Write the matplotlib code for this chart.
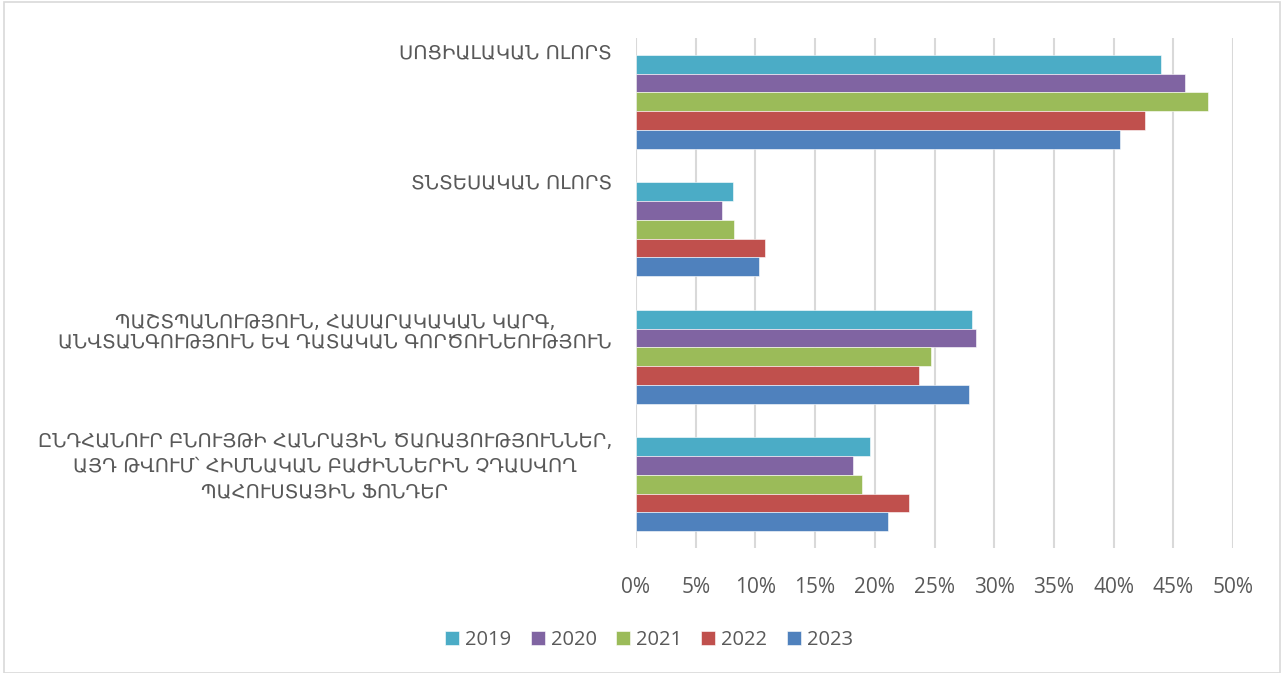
import matplotlib
matplotlib.use("Agg")
import matplotlib.pyplot as plt
from matplotlib.patches import Rectangle
import numpy as np

categories = [
    "ՍՈՑԻԱԼԱԿԱՆ ՈԼՈՐՏ",
    "ՏՆՏԵՍԱԿԱՆ ՈԼՈՐՏ",
    "ՊԱՇՏՊԱՆՈՒԹՅՈՒՆ, ՀԱՍԱՐԱԿԱԿԱՆ ԿԱՐԳ,\nԱՆՎՏԱՆԳՈՒԹՅՈՒՆ ԵՎ ԴԱՏԱԿԱՆ ԳՈՐԾՈՒՆԵՈՒԹՅՈՒՆ",
    "ԸՆԴՀԱՆՈՒՐ ԲՆՈՒՅԹԻ ՀԱՆՐԱՅԻՆ ԾԱՌԱՅՈՒԹՅՈՒՆՆԵՐ,\nԱՅԴ ԹՎՈՒՄ՝ ՀԻՄՆԱԿԱՆ ԲԱԺԻՆՆԵՐԻՆ ՉԴԱՍՎՈՂ\nՊԱՀՈՒՍՏԱՅԻՆ ՖՈՆԴԵՐ",
]
years = ["2019", "2020", "2021", "2022", "2023"]
v2019 = [44.0, 8.1, 28.1, 19.6]
v2020 = [46.0, 7.2, 28.5, 18.2]
v2021 = [47.9, 8.2, 24.7, 18.9]
v2022 = [42.6, 10.8, 23.7, 22.9]
v2023 = [40.5, 10.3, 27.9, 21.1]
series = [v2019, v2020, v2021, v2022, v2023]
colors = ["#4BACC6", "#8064A2", "#9BBB59", "#C0504D", "#4F81BD"]
xticks = [0, 5, 10, 15, 20, 25, 30, 35, 40, 45, 50]

plt.rcParams['font.family'] = ['DejaVu Sans']

W, H = 1284, 673
fig = plt.figure(figsize=(W / 100, H / 100), dpi=100)
fig.patches.append(Rectangle((4 / W, 0), (W - 8) / W, (H - 2) / H, transform=fig.transFigure,
                             fill=False, edgecolor="#D9D9D9", linewidth=1.2))

ax = fig.add_axes([636 / W, 1 - 548 / H, (1233 - 636) / W, (548 - 38) / H])
h = 0.147
y = np.arange(len(categories))
for i, (vals, c, yr) in enumerate(zip(series, colors, years)):
    ax.barh(y + (i - 2) * h, vals, height=h, color=c, label=yr,
            edgecolor="white", linewidth=0.4, zorder=3)

ax.set_xlim(0, 50)
ax.set_ylim(3.5, -0.5)
ax.set_xticks(xticks)
ax.set_xticklabels([f"{t}%" for t in xticks], fontsize=15, color="#595959",
                   family=["Open Sans", "DejaVu Sans"])
ax.set_yticks([])
ax.tick_params(axis="x", length=0, pad=21)
for s in ax.spines.values():
    s.set_visible(False)
ax.grid(axis="x", color="#D9D9D9", linewidth=1.5, zorder=0)
ax.set_axisbelow(True)

# category labels placed at the top of each group
label_px_offsets = [-2, 0, 22, 29]
linesp = [1.0, 1.0, 1.0, 1.4]
px_per_unit = (548 - 38) / 4.0
for k, (lab, off, ls) in enumerate(zip(categories, label_px_offsets, linesp)):
    ytop = k - 2.5 * h + off / px_per_unit
    ax.text(-24 / ((1233 - 636) / 50), ytop, lab, ha="right", va="center",
            multialignment="center", fontsize=14, color="#595959",
            linespacing=ls, clip_on=False)

leg = fig.legend(loc="center", bbox_to_anchor=(649 / W, 1 - 640 / H), ncol=5, frameon=False,
                 handlelength=0.7, handleheight=0.7, handletextpad=0.3,
                 columnspacing=0.95, prop={"family": ["Open Sans", "DejaVu Sans"], "size": 14.5})
for t in leg.get_texts():
    t.set_color("#595959")

fig.savefig("out.png", dpi=100, facecolor="white")
